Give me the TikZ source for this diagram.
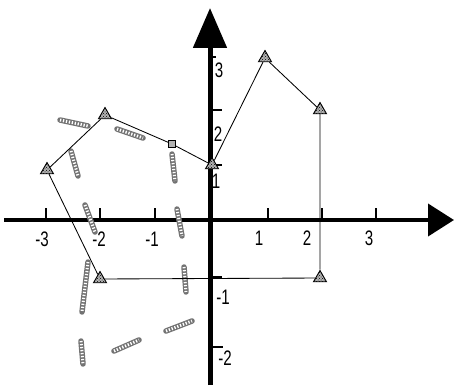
\documentclass[tikz,border=0pt]{standalone}
\usepackage{fontspec}
\setmainfont{Liberation Sans}
\usetikzlibrary{arrows.meta,shapes.geometric,patterns}
\tikzset{
  axisline/.style={line width=4pt},
  tickline/.style={line width=1.6pt},
  edge/.style={line width=0.85pt},
  tri/.style={regular polygon,regular polygon sides=3,minimum size=15pt,inner sep=0pt,draw,line width=0.9pt,fill=gray!60,postaction={pattern=crosshatch dots,pattern color=black}},
  sq/.style={rectangle,minimum size=7pt,inner sep=0pt,draw,line width=0.9pt,fill=gray!60},
  lab/.style={font=\fontsize{21}{21}\selectfont,xscale=0.72,inner sep=0pt},
  stripbase/.style={line width=5.5pt,black!55,line cap=round},
  stripdots/.style={line width=3pt,white,dash pattern=on 1.3pt off 1.7pt},
}
\newcommand{\mystrip}[2]{\draw[stripbase] #1 -- #2; \draw[stripdots] #1 -- #2;}
\begin{document}
\begin{tikzpicture}[x=1pt,y=-1pt]
\useasboundingbox (0,0) rectangle (454,385);
% axes
\coordinate (xs) at (4,220);
\coordinate (xe) at (454,220);
\coordinate (ys) at (210,385);
\coordinate (ye) at (210,8);
\draw[axisline,-{Triangle[length=26pt,width=32pt]}] (xs) -- (xe);
\draw[line width=5pt,-{Triangle[length=40pt,width=33pt]}] (ys) -- (ye);
% x ticks
\foreach \x in {46,100,155,268,322,376} \draw[tickline] (\x,220) -- (\x,208);
% y ticks
\foreach \y/\l in {57/6,110/12,165/12,277/12,347/13} \draw[tickline] (210,\y) -- (210+\l,\y);
% x labels
\node[lab] (lm3) at (42,239) {-3};
\node[lab] (lm2) at (99,239) {-2};
\node[lab] (lm1) at (152,239) {-1};
\node[lab] (lp1) at (259,238) {1};
\node[lab] (lp2) at (307,238) {2};
\node[lab] (lp3) at (369,238) {3};
% y labels
\node[lab] (ly3) at (219,70) {3};
\node[lab] (ly2) at (218,134) {2};
\node[lab] (ly1) at (216,181) {1};
\node[lab] (lym1) at (223,297) {-1};
\node[lab] (lym2) at (225,358) {-2};
% strips
\mystrip{(60,120)}{(88,126)}
\mystrip{(71,151)}{(78,176)}
\mystrip{(117,129)}{(143,138)}
\mystrip{(172,154)}{(175,181)}
\mystrip{(85,205)}{(95,232)}
\mystrip{(177,209)}{(182,236)}
\mystrip{(88,262)}{(82,312)}
\mystrip{(184,267)}{(186,292)}
\mystrip{(114,351)}{(139,340)}
\mystrip{(166,331)}{(192,321)}
\mystrip{(81,341)}{(83,364)}
% polygon vertices
\node[tri] (A) at (47,170) {};
\node[tri] (B) at (105,115) {};
\node[sq]  (C) at (172,144) {};
\node[tri] (D) at (212,165) {};
\node[tri] (E) at (265,58) {};
\node[tri] (F) at (320,110) {};
\node[tri] (G) at (320,278) {};
\node[tri] (H) at (100,279) {};
\draw[edge] (A) -- (B) -- (C) -- (D) -- (E) -- (F) -- (G) -- (H) -- (A);
\end{tikzpicture}
\end{document}
